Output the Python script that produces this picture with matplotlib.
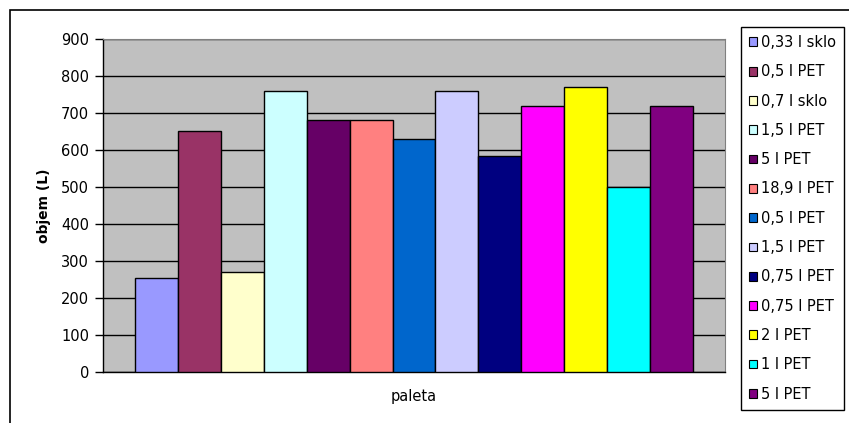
import numpy as np
import matplotlib
matplotlib.use("Agg")
import matplotlib.pyplot as plt
from matplotlib.patches import Rectangle

plt.rcParams['font.family'] = ['DejaVu Sans']

# one group ("paleta"), one bar per packaging type
labels = ['0,33 l sklo', '0,5 l PET', '0,7 l sklo', '1,5 l PET', '5 l PET',
          '18,9 l PET', '0,5 l PET', '1,5 l PET', '0,75 l PET', '0,75 l PET',
          '2 l PET', '1 l PET', '5 l PET']
volumes = [255, 650, 270, 760, 680, 680, 630, 760, 585, 720, 770, 500, 720]
colors = ['#9999FF', '#993366', '#FFFFCC', '#CCFFFF', '#660066', '#FF8080',
          '#0066CC', '#CCCCFF', '#000080', '#FF00FF', '#FFFF00', '#00FFFF',
          '#800080']
yticks = [0, 100, 200, 300, 400, 500, 600, 700, 800, 900]

W, H = 849, 423
fig = plt.figure(figsize=(W / 100, H / 100), dpi=100)

# outer chart frame
fig.patches.append(Rectangle((10 / W, -0.1), 1.2, 1 - 10 / H + 0.1,
                             transform=fig.transFigure, fill=False,
                             edgecolor='black', linewidth=1.2))

ax = fig.add_axes([103 / W, (H - 372) / H, (725 - 103) / W, (372 - 39) / H])
ax.set_facecolor('#C0C0C0')

x = np.arange(len(volumes))
bars = ax.bar(x, volumes, width=1.0, color=colors, edgecolor='black',
              linewidth=1.0, zorder=3)

ax.set_xlim(-1.25, len(volumes) - 1 + 1.25)
ax.set_ylim(0, 900)
ax.set_yticks(yticks)
ax.set_xticks([])
ax.yaxis.grid(True, color='black', linewidth=1.0, zorder=1)
ax.set_axisbelow(True)
ax.tick_params(axis='y', direction='out', length=6, width=1, labelsize=10.5,
               pad=4, color='black')
for s in ('top', 'right'):
    ax.spines[s].set_color('#808080')
ax.spines['left'].set_linewidth(1.0)
ax.spines['bottom'].set_linewidth(1.0)

ax.set_ylabel('objem (L)', fontsize=10, fontweight='bold', labelpad=7)
ax.set_xlabel('paleta', fontsize=10.5, labelpad=12)

handles = [Rectangle((0, 0), 1, 1, facecolor=c, edgecolor='black', linewidth=0.8)
           for c in colors]
leg = fig.legend(handles, labels, loc='upper left',
                 bbox_to_anchor=(741 / W, 1 - 27 / H), fontsize=10.5,
                 frameon=True, fancybox=False, framealpha=1,
                 edgecolor='black', handlelength=0.55, handleheight=0.55,
                 handletextpad=0.3, labelspacing=0.98, borderpad=0.55,
                 borderaxespad=0)
leg.get_frame().set_linewidth(1.0)

fig.savefig('out.png', dpi=100)
